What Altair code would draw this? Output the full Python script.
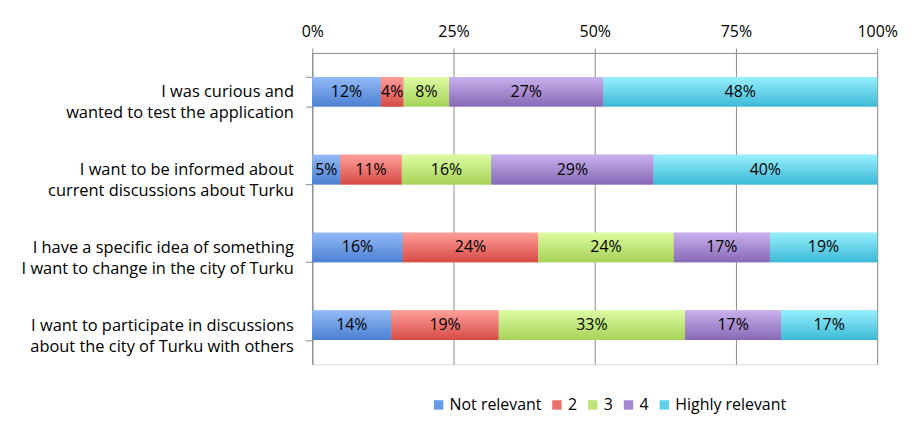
import altair as alt
import pandas as pd

questions = [
    "I was curious and|wanted to test the application",
    "I want to be informed about|current discussions about Turku",
    "I have a specific idea of something|I want to change in the city of Turku",
    "I want to participate in discussions|about the city of Turku with others",
]
categories = ["Not relevant", "2", "3", "4", "Highly relevant"]
values = [
    [12, 4, 8, 27, 48],
    [5, 11, 16, 29, 40],
    [16, 24, 24, 17, 19],
    [14, 19, 33, 17, 17],
]
flat_colors = ["#6a9be6", "#e8706b", "#bde57a", "#a588d0", "#5fd3ea"]
top_colors = ["#92baf6", "#ff9e9a", "#dcfca2", "#c9b1ec", "#97effd"]
bottom_colors = ["#4b80d2", "#d64a45", "#a6d257", "#8768b6", "#3bb9d6"]

rows = []
for qi, q in enumerate(questions):
    for ci, c in enumerate(categories):
        rows.append({"question": q, "qorder": qi, "category": c, "corder": ci,
                     "value": values[qi][ci]})
df = pd.DataFrame(rows)

FONT = "Open Sans"
FS = 16

base = alt.Chart(df).transform_stack(
    stack="value", groupby=["question"], as_=["x0", "x1"], offset="normalize",
    sort=[alt.SortField("corder", order="ascending")]
)

y_enc = alt.Y("question:N", sort=questions,
              scale=alt.Scale(paddingInner=0.62, paddingOuter=0.31),
              axis=alt.Axis(title=None, labelExpr="split(datum.label, '|')",
                            labelAlign="right", labelFontSize=16.5, labelLineHeight=21,
                            labelPadding=12, labelColor="#000", labelFont=FONT,
                            tickBand="extent", tickSize=7, tickColor="#8c8c8c",
                            domainColor="#8c8c8c", grid=False, labelLimit=400))
x_enc = alt.X("x0:Q", scale=alt.Scale(domain=[0, 1]),
              axis=alt.Axis(orient="top", format="%", values=[0, 0.25, 0.5, 0.75, 1],
                            title=None, labelFontSize=FS, labelColor="#000", labelFont=FONT,
                            tickSize=5, tickColor="#8c8c8c", domainColor="#8c8c8c",
                            gridColor="#8c8c8c", gridOpacity=1, labelPadding=8,
                            labelFlush=False))

legend_bars = base.mark_bar().encode(
    x=x_enc, x2="x1:Q", y=y_enc,
    color=alt.Color("category:N", sort=categories,
                    scale=alt.Scale(domain=categories, range=flat_colors),
                    legend=alt.Legend(title=None, orient="none", direction="horizontal",
                                      legendX=119, legendY=346, symbolType="square",
                                      symbolSize=90, symbolStrokeWidth=0,
                                      labelFontSize=FS, labelFont=FONT, labelColor="#000",
                                      columnPadding=7, symbolOffset=0, labelOffset=3)),
)

layers = [legend_bars]
for ci, c in enumerate(categories):
    grad = alt.Gradient(gradient="linear", x1=0, x2=0, y1=0, y2=1,
                        stops=[alt.GradientStop(color=top_colors[ci], offset=0),
                               alt.GradientStop(color=bottom_colors[ci], offset=1)])
    layers.append(
        base.transform_filter(alt.datum.category == c).mark_bar(fill=grad).encode(
            x="x0:Q", x2="x1:Q", y=alt.Y("question:N", sort=questions)
        )
    )

labels = base.transform_calculate(
    mid="(datum.x0 + datum.x1) / 2", txt="datum.value + '%'"
).mark_text(fontSize=FS, font=FONT, color="#000").encode(
    x="mid:Q", y=alt.Y("question:N", sort=questions), text="txt:N"
)
layers.append(labels)

chart = alt.layer(*layers).properties(
    width=568, height=313,
    autosize=alt.AutoSizeParams(type="none"),
    padding={"left": 306, "top": 44, "right": 30, "bottom": 60},
).configure_view(stroke=None).configure(background="white")

chart.save("out.html", embed_options={"renderer": "svg", "actions": False})
